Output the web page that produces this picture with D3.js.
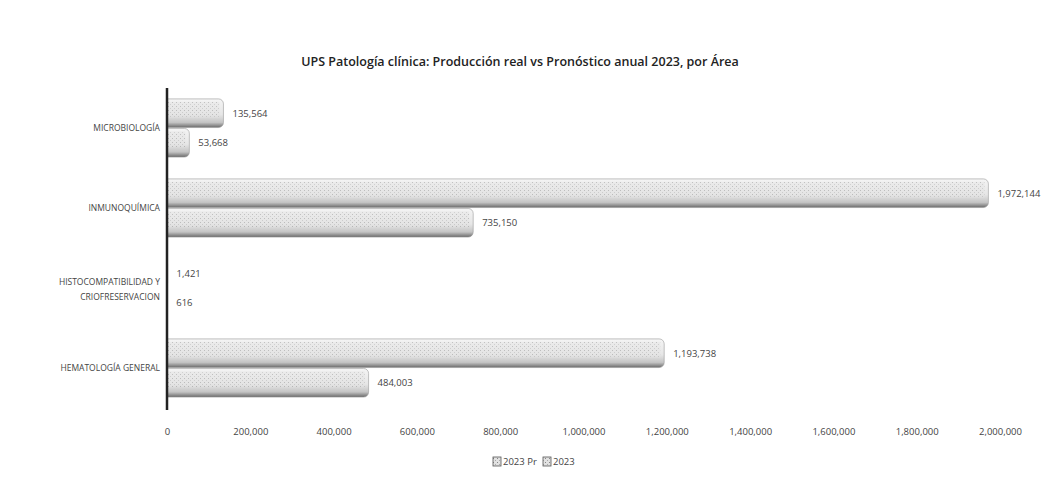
<!DOCTYPE html>
<html>
<head>
<meta charset="utf-8">
<script src="https://cdn.jsdelivr.net/npm/d3@7"></script>
<style>
  body { margin: 0; background: #fff; }
  text { font-family: "Open Sans", "Liberation Sans", sans-serif; }
</style>
</head>
<body>
<script>
var categories = ["MICROBIOLOGÍA", "INMUNOQUÍMICA", "HISTOCOMPATIBILIDAD Y|CRIOFRESERVACION", "HEMATOLOGÍA GENERAL"]
var series = ["2023 Pr", "2023"]
var valuesPr = [135564, 1972144, 1421, 1193738]
var values2023 = [53668, 735150, 616, 484003]
var ticks = [0, 200000, 400000, 600000, 800000, 1000000, 1200000, 1400000, 1600000, 1800000, 2000000]

var width = 1059, height = 480
var svg = d3.select("body").append("svg")
  .attr("width", width)
  .attr("height", height)

var defs = svg.append("defs")
var grad = defs.append("linearGradient")
  .attr("id", "barGrad")
  .attr("x1", 0).attr("y1", 0).attr("x2", 0).attr("y2", 1)
grad.append("stop").attr("offset", "0%").attr("stop-color", "#f4f4f4")
grad.append("stop").attr("offset", "55%").attr("stop-color", "#e6e6e6")
grad.append("stop").attr("offset", "82%").attr("stop-color", "#c4c4c4")
grad.append("stop").attr("offset", "100%").attr("stop-color", "#6a6a6a")

var pat = defs.append("pattern")
  .attr("id", "dots")
  .attr("width", 4).attr("height", 4)
  .attr("patternUnits", "userSpaceOnUse")
pat.append("rect").attr("width", 4).attr("height", 4).attr("fill", "#e2e2e2")
pat.append("rect").attr("x", 0).attr("y", 0).attr("width", 1).attr("height", 1).attr("fill", "#888")
pat.append("rect").attr("x", 2).attr("y", 2).attr("width", 1).attr("height", 1).attr("fill", "#aaa")

var x = d3.scaleLinear().domain([0, 2000000]).range([167, 1000])
var y = d3.scaleBand().domain(categories).range([88, 408]).paddingInner(0.25).paddingOuter(0.125)
var ySub = d3.scaleBand().domain(series).range([0, y.bandwidth()]).padding(0.03)

// keep bars right of the axis
defs.append("clipPath").attr("id", "plotClip")
  .append("rect")
  .attr("x", x(0)).attr("y", 0)
  .attr("width", width).attr("height", height)

// title
svg.append("text")
  .attr("x", 520).attr("y", 66)
  .attr("text-anchor", "middle")
  .style("font-size", "12.5px")
  .style("font-weight", "600")
  .style("fill", "#222")
  .text("UPS Patología clínica: Producción real vs Pronóstico anual 2023, por Área")

var rows = categories.map(function (c, i) {
  return [{ cat: c, s: "2023 Pr", v: valuesPr[i] }, { cat: c, s: "2023", v: values2023[i] }]
})

var groups = svg.selectAll("g.cat")
  .data(rows)
  .enter()
  .append("g")
  .attr("class", "cat")
  .attr("transform", function (d) { return "translate(0," + y(d[0].cat) + ")" })

var bars = groups.append("g").attr("clip-path", "url(#plotClip)")

bars.selectAll("rect.bar")
  .data(function (d) { return d })
  .enter()
  .append("rect")
  .attr("class", "bar")
  .attr("x", x(0) - 8)
  .attr("y", function (d) { return ySub(d.s) })
  .attr("width", function (d) { return x(d.v) - x(0) + 8 })
  .attr("height", ySub.bandwidth())
  .attr("rx", 5)
  .attr("fill", "url(#barGrad)")
  .attr("stroke", "#9a9a9a")
  .attr("stroke-width", 0.6)

bars.selectAll("rect.tex")
  .data(function (d) { return d })
  .enter()
  .append("rect")
  .attr("class", "tex")
  .attr("x", x(0))
  .attr("y", function (d) { return ySub(d.s) + 3 })
  .attr("width", function (d) { return Math.max(x(d.v) - x(0) - 4, 0) })
  .attr("height", ySub.bandwidth() * 0.55)
  .attr("fill", "url(#dots)")
  .attr("opacity", 0.45)

groups.selectAll("text.val")
  .data(function (d) { return d })
  .enter()
  .append("text")
  .attr("class", "val")
  .attr("x", function (d) { return x(d.v) + 9 })
  .attr("y", function (d) { return ySub(d.s) + ySub.bandwidth() / 2 })
  .attr("dy", "0.35em")
  .style("font-size", "9.5px")
  .style("fill", "#444")
  .text(function (d) { return d3.format(",")(d.v) })

// category labels
svg.selectAll("text.cat")
  .data(categories)
  .enter()
  .append("text")
  .attr("class", "cat")
  .attr("text-anchor", "end")
  .attr("x", 160)
  .attr("y", function (d) { return y(d) + y.bandwidth() / 2 })
  .style("font-size", "8.5px")
  .style("fill", "#444")
  .each(function (d) {
    var parts = d.split("|")
    var t = d3.select(this)
    parts.forEach(function (p, i) {
      t.append("tspan")
        .attr("x", 160)
        .attr("dy", i === 0 ? (parts.length > 1 ? "-0.3em" : "0.35em") : "1.7em")
        .text(p)
    })
  })

// axis line
svg.append("line")
  .attr("x1", x(0)).attr("x2", x(0))
  .attr("y1", 88).attr("y2", 410)
  .attr("stroke", "#222").attr("stroke-width", 2.5)

// x tick labels
var xAxis = d3.axisBottom(x).tickValues(ticks).tickFormat(d3.format(",")).tickSize(0)
var ax = svg.append("g").attr("transform", "translate(0,425)").call(xAxis)
ax.select(".domain").remove()
ax.selectAll("text")
  .style("font-size", "9.5px")
  .style("fill", "#444")
  .style("font-family", "'Open Sans', sans-serif")

// legend
var legend = svg.append("g").attr("transform", "translate(493,462)")
var legItems = [{ s: series[0], x: 0 }, { s: series[1], x: 50 }]
legend.selectAll("rect")
  .data(legItems)
  .enter()
  .append("rect")
  .attr("x", function (d) { return d.x })
  .attr("y", -5)
  .attr("width", 8).attr("height", 9)
  .attr("fill", "url(#dots)")
  .attr("stroke", "#555").attr("stroke-width", 0.8)
legend.selectAll("text")
  .data(legItems)
  .enter()
  .append("text")
  .attr("x", function (d) { return d.x + 10 })
  .attr("y", 0)
  .attr("dy", "0.35em")
  .style("font-size", "9.5px")
  .style("fill", "#444")
  .text(function (d) { return d.s })
</script>
</body>
</html>
